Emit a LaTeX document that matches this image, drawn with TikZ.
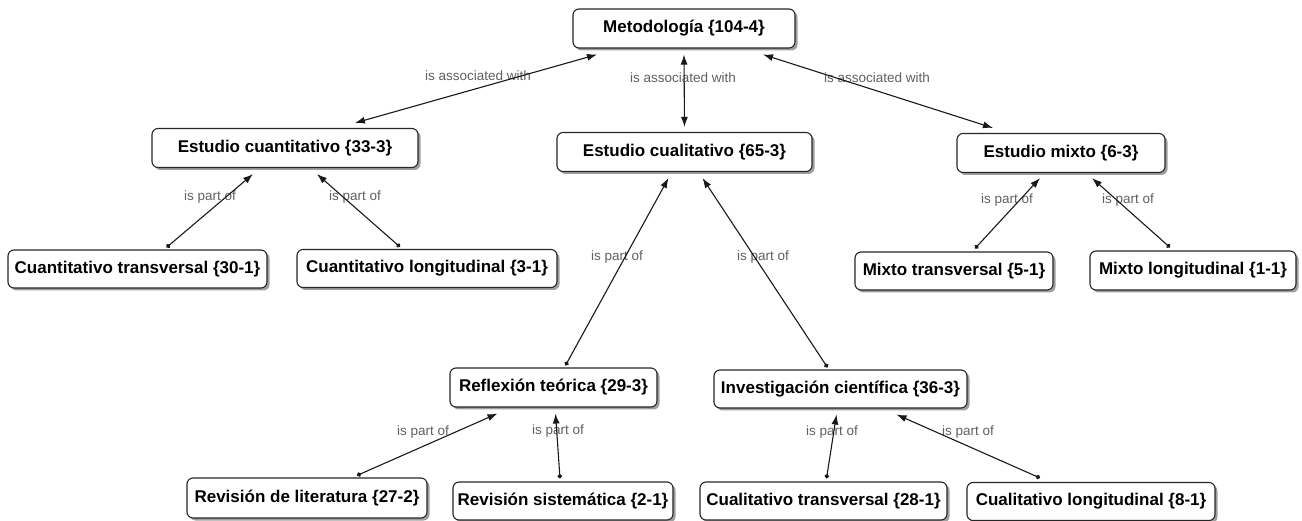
\documentclass[tikz,border=0pt]{standalone}
\usepackage{fontspec}
\setmainfont{Liberation Sans}
\usetikzlibrary{arrows.meta,shadows}

\begin{document}
\begin{tikzpicture}[x=1pt,y=-1pt,
  concept/.style={draw=black!85, line width=1.1pt, rounded corners=6pt, fill=white,
    inner sep=0pt, minimum height=39pt,
    font=\fontsize{17}{20}\selectfont\bfseries,
    drop shadow={shadow xshift=2.5pt, shadow yshift=-2.5pt, opacity=0.5, fill=black!75}},
  rel/.style={line width=1.1pt, draw=black!90},
  tipend/.tip={Latex[length=10pt,width=7pt]},
  assoc/.style={rel, tipend-tipend},
  partof/.style={rel, {Circle[length=4.5pt]}-tipend},
  lbl/.style={text=black!62, font=\fontsize{13.5}{16}\selectfont, inner sep=0pt}
]
\useasboundingbox (0,0) rectangle (1302,521);
\fill[white] (0,0) rectangle (1302,521);

% concepts
\node[concept, minimum width=222pt] (met)    at (684,28.5)   {Metodología {\{}104-4{\}}};
\node[concept, minimum width=266pt] (cuant)  at (285,148)    {Estudio cuantitativo {\{}33-3{\}}};
\node[concept, minimum width=255pt] (cual)   at (684.5,152)  {Estudio cualitativo {\{}65-3{\}}};
\node[concept, minimum width=208pt] (mixto)  at (1061,153)   {Estudio mixto {\{}6-3{\}}};
\node[concept, minimum width=259pt, minimum height=38pt] (ctrans) at (137.5,269) {Cuantitativo transversal {\{}30-1{\}}};
\node[concept, minimum width=260pt, minimum height=38pt] (clong)  at (427,268.5) {Cuantitativo longitudinal {\{}3-1{\}}};
\node[concept, minimum width=198pt, minimum height=38pt] (mtrans) at (954,271)   {Mixto transversal {\{}5-1{\}}};
\node[concept, minimum width=206pt] (mlong)  at (1193,270.5) {Mixto longitudinal {\{}1-1{\}}};
\node[concept, minimum width=207pt] (refl)   at (553.5,387.5) {Reflexión teórica {\{}29-3{\}}};
\node[concept, minimum width=253pt, minimum height=38pt] (inv)    at (840.5,389) {Investigación científica {\{}36-3{\}}};
\node[concept, minimum width=240pt, minimum height=40pt] (rlit)   at (307,498)   {Revisión de literatura {\{}27-2{\}}};
\node[concept, minimum width=220pt, minimum height=38pt] (rsis)   at (563,501)   {Revisión sistemática {\{}2-1{\}}};
\node[concept, minimum width=247pt, minimum height=38pt] (qtrans) at (823.5,501) {Cualitativo transversal {\{}28-1{\}}};
\node[concept, minimum width=248pt, minimum height=38pt] (qlong)  at (1091,501.5) {Cualitativo longitudinal {\{}8-1{\}}};

% relation labels
\node[lbl] (la1) at (478,76)  {is associated with};
\node[lbl] (la2) at (683,78)  {is associated with};
\node[lbl] (la3) at (877,78)  {is associated with};
\node[lbl] (lp1) at (210,197) {is part of};
\node[lbl] (lp2) at (355,197) {is part of};
\node[lbl] (lp3) at (617,257) {is part of};
\node[lbl] (lp4) at (763,257) {is part of};
\node[lbl] (lp5) at (1007,200) {is part of};
\node[lbl] (lp6) at (1128,200) {is part of};
\node[lbl] (lp7) at (423,432) {is part of};
\node[lbl] (lp8) at (558,431) {is part of};
\node[lbl] (lp9) at (832,432) {is part of};
\node[lbl] (lp10) at (968,432) {is part of};

% associations
\draw[assoc] ([xshift=-87pt,yshift=-6pt]met.south) -- ([xshift=70pt,yshift=5pt]cuant.north);
\draw[assoc] ([yshift=-6pt]met.south) -- ([yshift=5pt]cual.north);
\draw[assoc] ([xshift=79pt,yshift=-6pt]met.south) -- ([xshift=-68pt,yshift=5pt]mixto.north);

% part-of relations
\draw[partof] ([xshift=29pt,yshift=2pt]ctrans.north) -- ([xshift=-32pt,yshift=-6pt]cuant.south);
\draw[partof] ([xshift=-27pt,yshift=2pt]clong.north) -- ([xshift=32pt,yshift=-6pt]cuant.south);
\draw[partof] ([xshift=12pt,yshift=2pt]refl.north) -- ([xshift=-16pt,yshift=-6pt]cual.south);
\draw[partof] ([xshift=-13pt,yshift=2pt]inv.north) -- ([xshift=18pt,yshift=-6pt]cual.south);
\draw[partof] ([xshift=21pt,yshift=3pt]mtrans.north) -- ([xshift=-21pt,yshift=-5pt]mixto.south);
\draw[partof] ([xshift=-23pt,yshift=3pt]mlong.north) -- ([xshift=31pt,yshift=-5pt]mixto.south);
\draw[partof] ([xshift=50pt,yshift=2pt]rlit.north) -- ([xshift=-56pt,yshift=-6pt]refl.south);
\draw[partof] ([xshift=-3pt,yshift=3pt]rsis.north) -- ([xshift=2pt,yshift=-6pt]refl.south);
\draw[partof] ([xshift=3pt,yshift=3pt]qtrans.north) -- ([xshift=-4pt,yshift=-6pt]inv.south);
\draw[partof] ([xshift=-51pt,yshift=4pt]qlong.north) -- ([xshift=56pt,yshift=-6pt]inv.south);
\end{tikzpicture}
\end{document}
